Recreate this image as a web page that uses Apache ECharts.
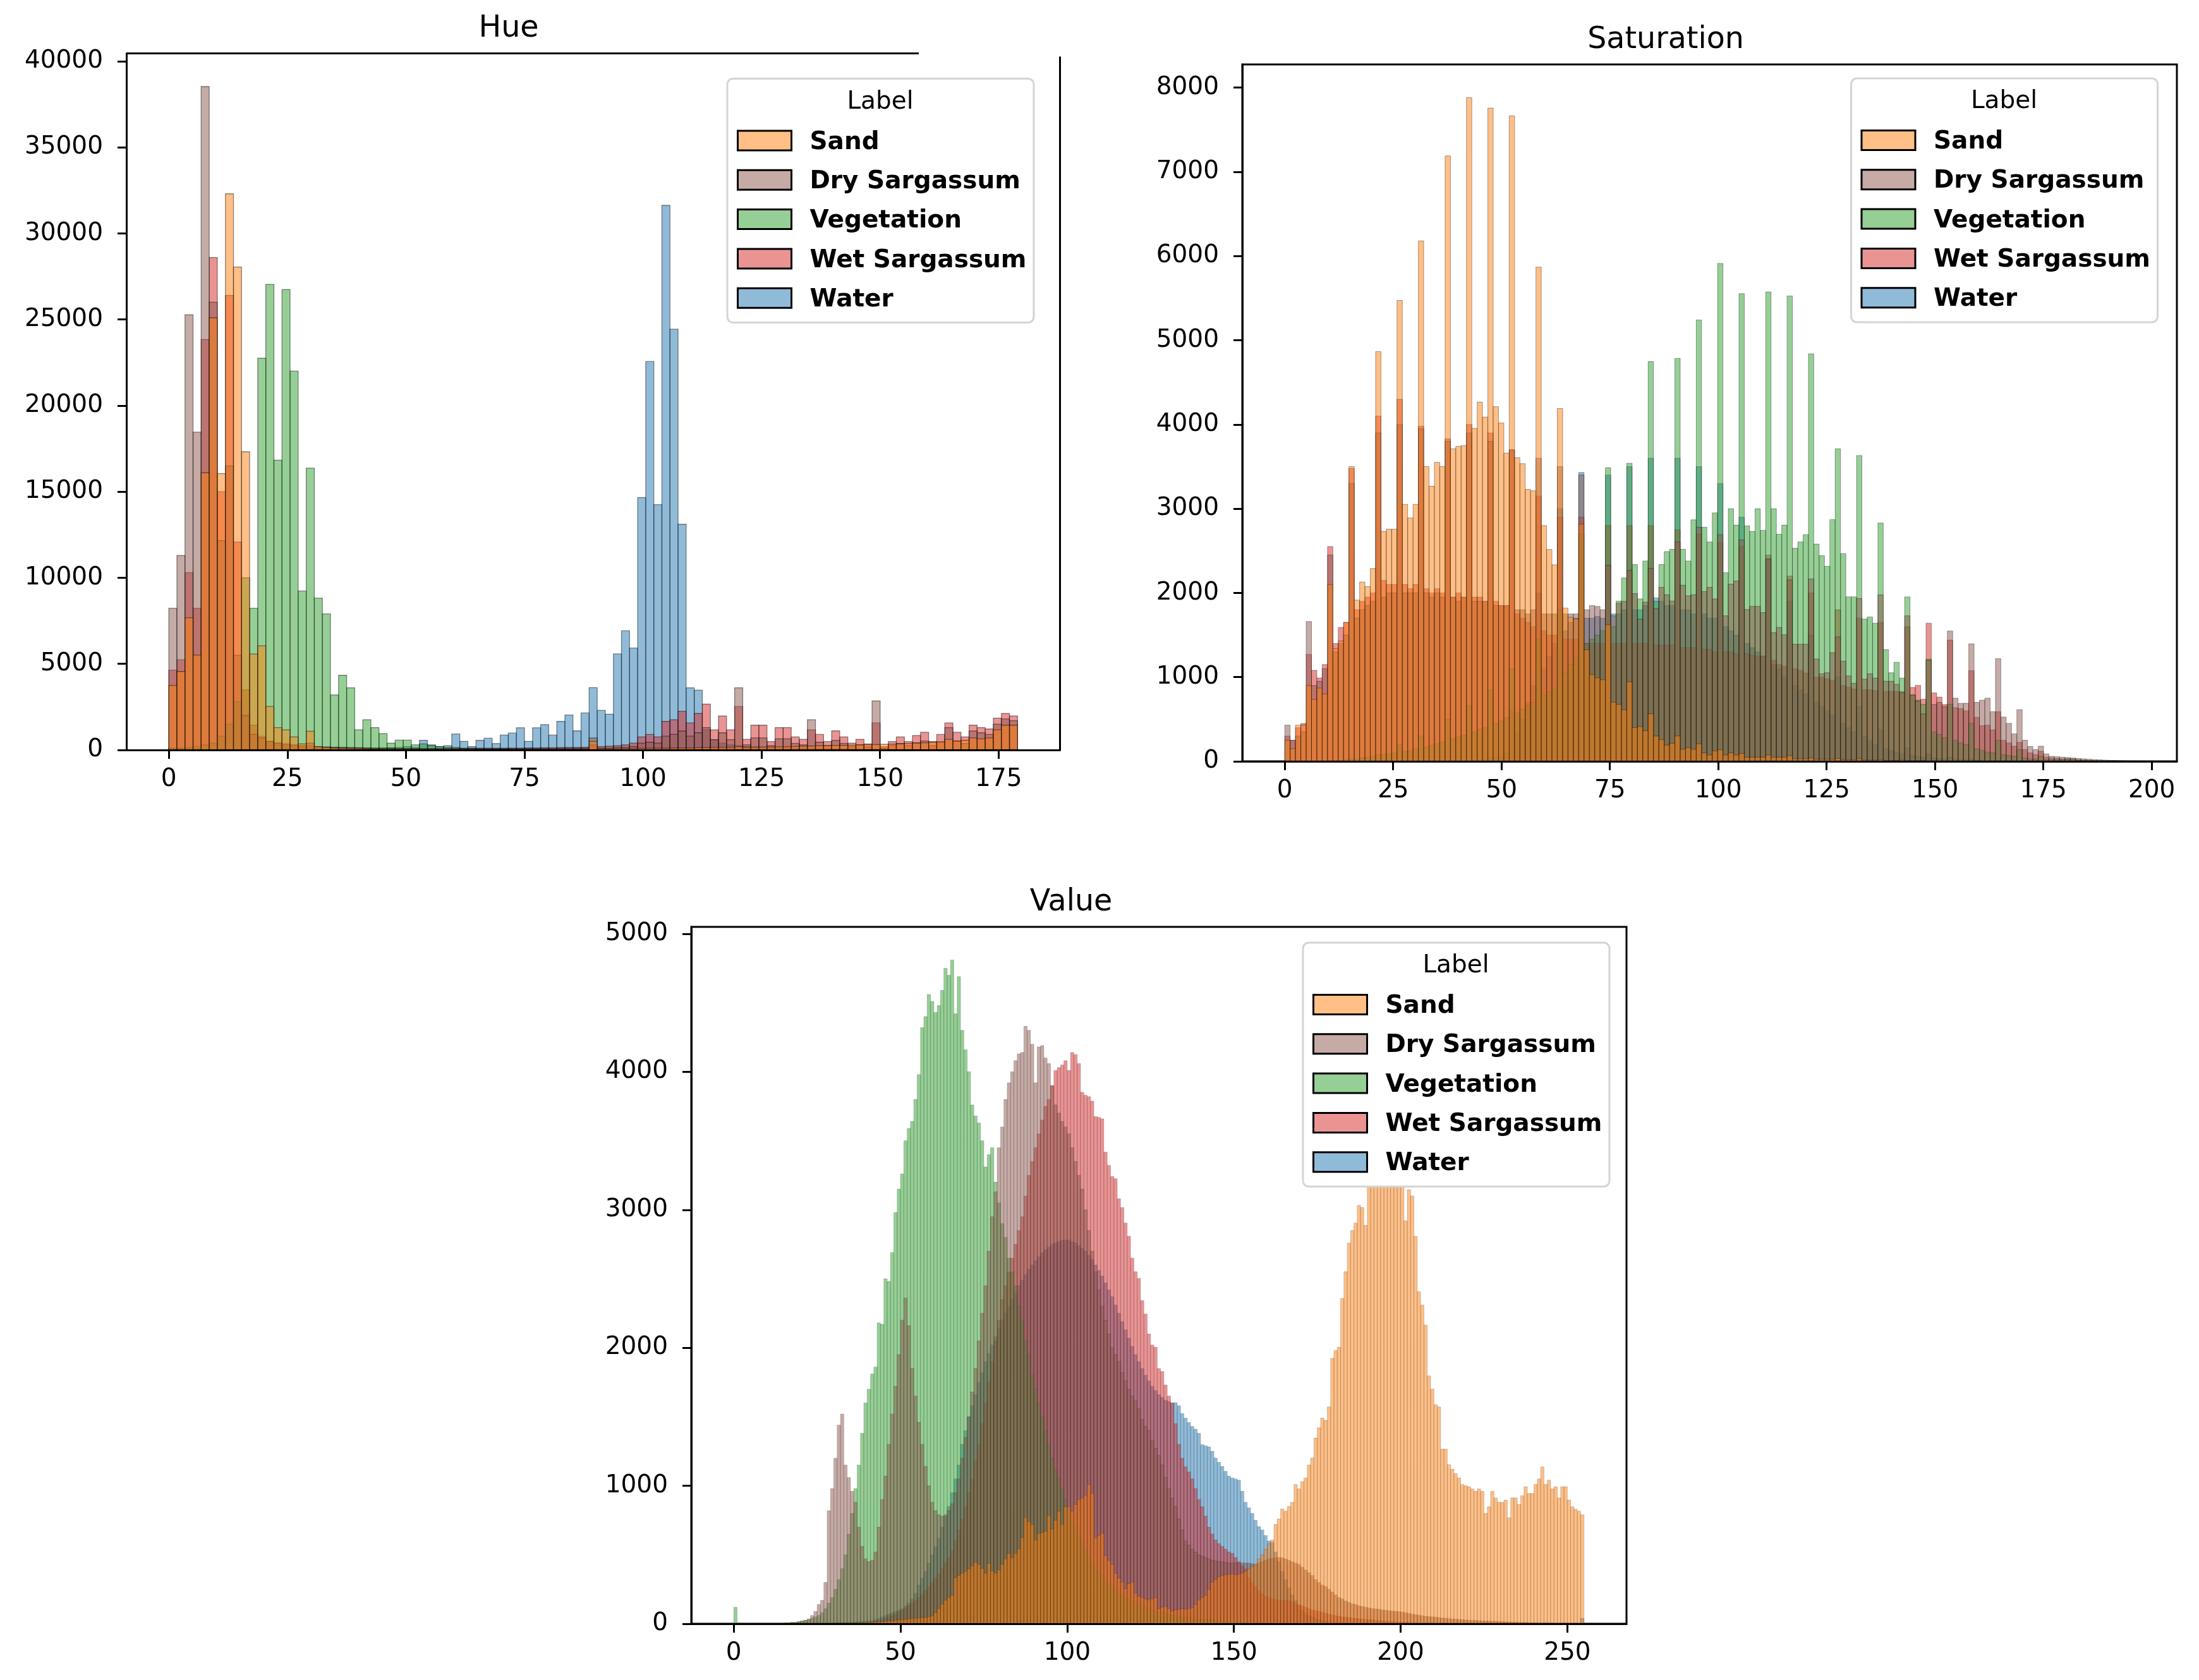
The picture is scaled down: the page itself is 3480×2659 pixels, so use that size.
<!DOCTYPE html>
<html>
<head>
<meta charset="utf-8">
<title>HSV histograms by label</title>
<script src="https://cdn.jsdelivr.net/npm/echarts@6/dist/echarts.min.js"></script>
<style>
  html, body { margin: 0; padding: 0; background: #fff; }
  #chart { width: 3480px; height: 2659px; }
</style>
</head>
<body>
<div id="chart"></div>
<script>
// ---- categories ----
var labels = ['Sand', 'Dry Sargassum', 'Vegetation', 'Wet Sargassum', 'Water'];
var fills = ['rgba(255,127,14,0.5)', 'rgba(140,86,75,0.5)', 'rgba(44,160,44,0.5)', 'rgba(214,39,40,0.5)', 'rgba(31,119,180,0.5)'];

// ---- bin layout (range and bin count per channel) ----
var hueRange = [0, 179], hueBinCount = 105;
var satRange = [0, 196], satBinCount = 159;
var valRange = [0, 255], valBinCount = 255;

// ---- tick labels ----
var hueXTicks = [0, 25, 50, 75, 100, 125, 150, 175];
var hueYTicks = [0, 5000, 10000, 15000, 20000, 25000, 30000, 35000, 40000];
var satXTicks = [0, 25, 50, 75, 100, 125, 150, 175, 200];
var satYTicks = [0, 1000, 2000, 3000, 4000, 5000, 6000, 7000, 8000];
var valXTicks = [0, 50, 100, 150, 200, 250];
var valYTicks = [0, 1000, 2000, 3000, 4000, 5000];

// ---- Hue counts per bin ----
var hueSand = [3750,4560,7680,5510,16100,25100,16050,32300,28050,17320,
  5570,6050,2525,1300,1170,760,350,1090,200,150,
  120,100,90,80,60,50,40,40,30,30,
  30,30,30,30,30,60,30,30,30,30,
  40,40,40,40,40,40,50,50,50,50,
  60,60,500,80,80,80,90,90,100,100,
  100,100,120,120,120,130,130,150,150,150,
  200,150,160,170,180,190,200,210,220,230,
  240,250,260,270,280,300,310,320,330,340,
  350,380,400,420,450,480,620,520,560,700,
  650,700,1170,1440,1440];
var hueDry = [8230,11300,25280,18460,38530,26000,12160,16500,5500,2000,
  900,700,500,400,350,300,250,400,200,180,
  160,150,140,130,120,110,100,100,90,90,
  80,80,80,80,80,80,80,80,80,80,
  80,80,80,80,90,90,90,90,100,100,
  100,100,700,100,100,150,150,200,400,450,
  400,800,900,1100,800,1000,1300,600,1000,600,
  3610,300,700,700,250,650,650,380,300,1760,
  450,250,550,380,200,300,180,2850,100,250,
  380,250,420,520,250,450,1300,520,380,1100,
  1000,900,1500,1800,1700];
var hueVeg = [100,100,150,200,300,400,800,1500,2800,10000,
  8230,22750,27040,16830,26740,22000,9230,16370,8820,7900,
  3200,4340,3610,1170,1760,1300,950,400,570,570,
  300,350,250,200,150,150,100,80,70,60,
  50,50,40,40,30,30,30,20,20,20,
  20,20,20,10,10,10,10,10,10,10];
var hueWet = [4640,5240,10300,8230,23840,28600,15000,26400,12080,3500,
  1440,800,500,400,300,250,200,250,180,150,
  150,140,130,120,110,100,100,100,90,90,
  90,90,90,90,90,90,90,100,100,100,
  100,100,110,110,120,120,130,130,140,150,
  150,160,300,200,220,250,300,400,760,900,
  760,1660,1760,2250,1570,2120,2660,1170,1980,1170,
  2525,620,1440,1440,490,1300,1300,760,620,1170,
  900,490,1110,760,400,620,350,1570,200,490,
  760,490,840,1030,490,900,1570,1030,760,1440,
  1300,1220,1850,2120,1980];
var hueWater = [50,50,50,50,50,50,50,50,50,50,
  50,50,50,50,50,60,60,60,60,60,
  60,70,70,80,80,90,100,120,150,200,
  150,560,300,200,250,930,500,200,560,680,
  375,865,985,1290,500,1290,1475,865,1660,2030,
  1110,2150,3620,2300,2080,5580,6920,5920,14660,22560,
  14250,31630,24440,13110,3610,3475,1170,600,400,300,
  250,200,180,160,150,130,120,110,100,100,
  90,80,80,70,70,60,60,50,50,50,
  40,40,40,40,40,40,40,40,40,40,
  40,40,40,40,40];

// ---- Saturation counts per bin ----
var satSand = [250,150,430,430,900,735,870,800,2100,1340,
  1430,1650,3500,1915,2130,2076,2290,4866,2730,2757,
  2757,5472,3052,2890,3052,6180,3500,3267,3550,3500,
  7189,3712,3740,3750,7881,3954,4265,4088,7757,4211,
  4018,3660,7666,3605,3535,3230,3213,5869,2800,2516,
  2334,4190,1820,1711,1690,2817,1325,1030,992,969,
  1620,701,676,613,944,401,413,363,564,301,
  258,193,213,301,143,163,143,208,100,75,
  125,138,75,100,75,93,50,50,50,50,
  75,50,50,50,68,30,30,30,40,25,
  25,25,25,35,20,20,20,30,15,15,
  15,20,10,10,10,15,8,8,8,10,
  5,5,5,5,5,5,5,5,5,5];
var satDry = [430,250,300,350,1660,900,950,1100,2450,1300,
  1400,1500,3300,1700,1800,1850,1900,3900,1950,2000,
  2000,4000,2000,2000,2000,3950,2000,1950,2000,1950,
  3800,1950,1900,1950,3900,1900,1900,1900,3800,1850,
  1850,1850,3700,1800,1800,1750,1800,3600,1750,1750,
  1750,3500,1750,1750,1750,3400,1800,1850,1840,1800,
  2330,1728,1878,1900,2267,1991,1690,1890,2292,1815,
  2066,1978,1903,2605,2091,1966,1978,2780,2016,2066,
  1929,2692,1728,2104,2141,2630,1803,1840,1840,1766,
  2404,1528,1590,1503,2154,1390,1390,1390,2166,1215,
  1040,1052,1290,1478,1190,1014,926,1933,976,1039,
  989,1977,951,951,914,814,1728,789,714,563,
  1200,676,700,650,1548,751,688,690,1395,701,
  726,751,589,1220,526,451,326,614,251,176,
  139,180,88,60,55,50,45,40,35,30,
  25,20,18,15,12,10,8,6,5];
var satVeg = [0,0,0,0,0,0,0,0,10,10,
  10,20,30,30,40,50,60,80,80,90,
  100,200,120,130,150,300,170,190,210,230,
  500,270,290,310,660,350,380,400,850,450,
  480,520,1100,580,620,660,700,1450,780,820,
  870,1800,1050,1150,1250,2700,1400,1450,1500,1550,
  3487,1600,1903,2178,3540,2337,1929,2379,4748,1900,
  2337,2491,2517,4785,2517,2379,2868,5241,2780,2605,
  2950,5912,2240,3000,2805,5553,2797,2730,3000,2743,
  5574,3000,2697,2805,5526,2530,2605,2692,4839,2580,
  2442,2316,2870,3712,2467,1953,1953,3632,1690,1715,
  1640,2830,1327,1052,1176,989,1953,788,726,676,
  1213,350,320,280,676,250,220,200,451,150,
  130,110,100,250,80,70,60,139,40,30,
  30,60,20,20,20,20,30,30,10,10];
var satWet = [300,250,400,450,1270,1080,990,1150,2550,1400,
  1590,1650,3480,1800,1900,1950,2000,4100,2150,2100,
  2100,4300,2100,2050,2100,3980,2050,2000,2050,2000,
  3830,1950,2000,1950,4000,1950,1950,1900,3900,1900,
  1850,1850,3700,1750,1700,1650,1600,3150,1550,1500,
  1500,2900,1450,1450,1450,2900,1400,1400,1400,1400,
  2800,1400,1400,1400,2800,1400,1400,1400,2800,1380,
  1380,1380,1380,2750,1350,1350,1350,2700,1330,1330,
  1300,2600,1300,1300,1280,2550,1280,1260,1250,1250,
  2450,1200,1150,1130,2200,1100,1080,1050,2000,1000,
  1000,980,960,1800,900,880,860,1700,850,850,
  840,1650,830,830,830,830,1600,877,902,738,
  1640,813,763,676,1440,638,626,600,1076,523,
  423,430,375,589,250,220,180,226,139,100,
  80,120,50,40,35,30,30,25,20,15,
  12,10,8,6,5,4,3,2,0];
var satWater = [0,0,0,0,0,0,0,0,0,0,
  0,0,0,0,0,0,0,0,0,0,
  0,0,0,0,0,0,0,0,0,0,
  0,0,0,0,0,10,20,30,40,50,
  60,100,600,350,500,700,900,2000,1100,1250,
  1400,3000,1550,1650,1700,3430,1700,1700,1720,1700,
  3400,1750,1750,1800,3500,1800,1800,1850,3600,1940,
  1900,1850,1850,3600,1800,1800,1750,3500,1750,1700,
  1700,3300,1600,1550,1500,2900,1400,1350,1300,1250,
  2400,1150,1100,1000,1900,900,850,800,1500,700,
  650,600,550,1000,450,400,350,650,300,250,
  200,380,150,130,110,90,160,70,60,50,
  90,40,35,30,50,25,20,20,30,15,
  12,10,10,15,8,6,5,8,4,3,
  3,5,2,2,2,2,3,2,2,2,
  2,2,2,2,2,2,2,2,2];

// ---- Value counts per bin ----
var valSand = [0,0,0,0,0,0,0,0,0,0,
  0,0,0,0,0,0,0,0,0,0,
  0,0,0,0,0,2,2,3,3,4,
  4,5,5,5,6,6,7,8,8,9,
  10,10,12,14,16,18,20,22,25,28,
  30,32,35,38,40,42,45,45,50,55,
  80,110,141,170,190,205,334,350,366,380,
  398,420,446,430,400,366,437,382,366,390,
  430,470,510,478,510,543,623,768,740,720,
  607,655,660,671,784,687,750,816,720,848,
  848,816,864,900,912,928,1009,944,623,640,
  655,494,460,430,366,330,302,254,290,302,
  222,200,190,180,173,180,190,109,120,125,
  110,93,100,105,109,105,110,115,140,173,
  190,205,250,302,320,340,350,355,360,362,
  355,360,366,380,398,415,430,470,500,540,
  580,607,720,760,832,816,850,880,1009,977,
  1030,1057,1150,1201,1346,1420,1491,1474,1571,1924,
  1980,2004,2358,2551,2759,2850,2904,3032,3016,2888,
  3250,3450,3650,3800,3900,3950,3850,3700,3500,3300,
  3200,2920,3145,3100,2808,2406,2310,2165,1796,1700,
  1587,1571,1266,1266,1153,1120,1089,1057,1009,1000,
  993,977,960,977,960,800,848,960,912,880,
  880,896,768,912,912,864,928,993,944,944,
  1009,1050,1137,1009,1041,977,993,912,993,993,
  896,848,830,816,790];
var valDry = [0,0,0,0,0,0,0,0,0,0,
  0,0,0,0,0,5,5,10,10,15,
  20,25,35,60,90,140,170,300,820,980,
  1200,1440,1520,1150,1060,960,880,700,560,470,
  450,460,520,700,900,1070,1300,1520,1720,1950,
  2200,2360,2160,1850,1650,1460,1300,1140,1000,880,
  820,790,780,790,820,870,950,1050,1200,1350,
  1500,1680,1850,2050,2250,2450,2700,2950,3130,3450,
  3600,3800,3920,4000,4080,4130,4140,4330,4300,4200,
  3920,4180,4190,4100,4060,3900,3760,3700,3640,3600,
  3550,3450,3350,3250,3150,3000,2850,2700,2550,2420,
  2300,2200,2100,2000,1950,1900,1820,1760,1700,1650,
  1620,1560,1480,1430,1400,1330,1270,1220,1150,1060,
  980,910,850,760,680,600,570,540,520,500,
  490,480,470,460,455,450,450,445,440,440,
  440,440,440,440,440,435,430,440,450,460,
  470,475,478,480,478,470,460,450,440,430,
  410,390,370,350,320,300,280,270,250,230,
  210,190,180,165,155,145,140,130,125,120,
  115,110,108,105,100,98,95,92,90,88,
  85,80,75,70,66,62,58,55,52,50,
  48,45,42,40,38,36,34,32,30,28,
  26,25,24,22,21,20,19,18,17,16,
  15,14,13,12,12,11,10,10,9,9,
  8,8,7,7,6,6,5,5,5,4,
  4,3,3,2,2];
var valVeg = [120,5,0,0,0,0,0,0,0,0,
  0,0,0,0,0,5,5,10,10,15,
  20,25,30,40,50,60,80,110,150,190,
  250,320,400,500,650,800,980,1150,1380,1600,
  1700,1810,1860,2180,2170,2500,2480,2690,2980,3150,
  3260,3500,3590,3640,3800,3980,4320,4400,4560,4510,
  4430,4480,4590,4750,4700,4810,4420,4690,4300,4160,
  4000,3760,3680,3630,3500,3310,3400,3450,3200,3050,
  2900,2800,2650,2550,2450,2300,2200,2050,1950,1800,
  1700,1600,1500,1400,1300,1200,1120,1050,980,900,
  830,760,700,640,590,540,490,450,410,380,
  350,320,290,270,250,230,210,190,175,160,
  150,140,130,120,110,100,90,85,80,75,
  70,65,60,55,50,45,42,40,38,35,
  32,30,28,26,24,22,20,18,16,15,
  14,13,12,11,10,9,8,7,6,5,
  5,5,4,4,4,3,3,3,2,2];
var valWet = [0,0,0,0,0,0,0,0,0,0,
  0,0,0,0,0,0,0,0,0,0,
  0,0,0,0,0,0,0,2,3,4,
  5,5,5,5,6,6,7,7,8,9,
  10,15,20,25,30,40,50,60,70,85,
  100,115,130,150,170,190,210,240,270,300,
  330,360,400,440,480,530,600,680,760,850,
  950,1050,1180,1300,1450,1600,1750,1900,2050,2200,
  2350,2450,2550,2650,2750,2850,2950,3100,3250,3350,
  3450,3550,3650,3750,3800,3900,4010,4030,4050,4080,
  4010,4140,4125,4060,3852,3830,3820,3787,3675,3670,
  3659,3418,3322,3241,3225,3080,3016,2904,2808,2650,
  2551,2502,2342,2245,2100,2020,2004,1850,1828,1731,
  1650,1600,1450,1300,1200,1137,1100,1050,980,900,
  848,780,700,650,607,580,560,540,520,510,
  480,450,420,398,334,300,270,240,220,200,
  190,180,175,170,170,170,165,160,150,140,
  130,120,110,100,95,90,85,77,70,65,
  60,55,50,48,45,42,40,38,35,32,
  30,28,26,24,22,20,18,16,15,14,
  13,12,11,10,9,8,7,7,6,6,
  5,5,5,4,4,4,3,3,3,2];
var valWater = [0,0,0,0,0,0,0,0,0,0,
  0,0,0,0,0,0,0,0,0,0,
  0,0,0,0,0,0,0,0,0,0,
  5,5,5,8,8,10,12,14,16,18,
  20,25,30,40,50,60,70,80,90,100,
  110,130,150,180,220,280,330,380,440,500,
  560,620,700,780,850,950,1050,1150,1300,1400,
  1500,1580,1660,1750,1820,1900,1960,2020,2080,2140,
  2200,2250,2300,2350,2400,2450,2490,2530,2570,2600,
  2630,2660,2690,2710,2730,2750,2760,2770,2780,2780,
  2780,2770,2760,2740,2720,2700,2670,2640,2600,2560,
  2520,2470,2420,2370,2310,2250,2190,2130,2070,2010,
  1950,1900,1850,1800,1760,1720,1690,1660,1640,1620,
  1610,1600,1603,1580,1523,1490,1458,1430,1410,1380,
  1298,1290,1282,1250,1201,1170,1140,1105,1070,1057,
  1050,1041,960,880,840,800,750,704,680,640,
  600,591,520,450,380,320,260,210,170,130,
  100,80,60,50,40,30,25,20,15,12,
  10,8,6,5,4,3,3,2,2,2,
  0,0,0,0,0,0,0,0,0,0,
  0,0,0,0,0,0,0,0,0,0,
  0,0,0,0,0,0,0,0,0,0,
  0,0,0,0,0,0,0,0,0,0,
  0,0,0,0,0,0,0,0,0,0,
  0,0,0,0,0,0,0,0,0,0,
  0,0,0,0,40];

var FONT = 'DejaVu Sans';
var TOP_Z = 100;

var panels = [
  { name: 'Hue', counts: [hueSand, hueDry, hueVeg, hueWet, hueWater], range: hueRange, bins: hueBinCount,
    xTicks: hueXTicks, yTicks: hueYTicks, xMin: -8.95, xMax: 187.95, yMax: 40456,
    grid: { left: 200, top: 84.5, width: 1477.5, height: 1102.5, show: false },
    edge: 'rgba(0,0,0,0.45)', lw: 1.3 },
  { name: 'Saturation', counts: [satSand, satDry, satVeg, satWet, satWater], range: satRange, bins: satBinCount,
    xTicks: satXTicks, yTicks: satYTicks, xMin: -9.8, xMax: 205.8, yMax: 8275,
    grid: { left: 1966, top: 102, width: 1479, height: 1103, show: true, borderColor: '#000', borderWidth: 3 },
    edge: 'rgba(0,0,0,0.4)', lw: 0.9 },
  { name: 'Value', counts: [valSand, valDry, valVeg, valWet, valWater], range: valRange, bins: valBinCount,
    xTicks: valXTicks, yTicks: valYTicks, xMin: -12.75, xMax: 267.75, yMax: 5050,
    grid: { left: 1094, top: 1467, width: 1480, height: 1103, show: true, borderColor: '#000', borderWidth: 3 },
    edge: 'rgba(0,0,0,0.3)', lw: 0.6 }
];

function barRenderer(fill, edge, lw) {
  return function (params, api) {
    var p0 = api.coord([api.value(0), api.value(2)]);
    var p1 = api.coord([api.value(1), 0]);
    return {
      type: 'rect',
      shape: { x: p0[0], y: p0[1], width: p1[0] - p0[0], height: p1[1] - p0[1] },
      style: { fill: fill, stroke: edge, lineWidth: lw }
    };
  };
}

function plainLabel(v) { return String(v); }

var grids = [], xAxes = [], yAxes = [], series = [];

panels.forEach(function (p, k) {
  grids.push(p.grid);
  xAxes.push({
    type: 'value', gridIndex: k, min: p.xMin, max: p.xMax, z: 10,
    axisLine: { show: true, onZero: false, lineStyle: { color: '#000', width: 3 } },
    axisTick: { show: true, length: 14, lineStyle: { color: '#000', width: 3 }, customValues: p.xTicks },
    axisLabel: { customValues: p.xTicks, formatter: plainLabel, color: '#000', fontSize: 39, fontFamily: FONT, margin: 27 },
    splitLine: { show: false }
  });
  yAxes.push({
    type: 'value', gridIndex: k, min: 0, max: p.yMax, z: 10,
    axisLine: { show: true, onZero: false, lineStyle: { color: '#000', width: 3 } },
    axisTick: { show: true, length: 14, lineStyle: { color: '#000', width: 3 }, customValues: p.yTicks },
    axisLabel: { customValues: p.yTicks, formatter: plainLabel, color: '#000', fontSize: 39, fontFamily: FONT, margin: 37 },
    splitLine: { show: false }
  });

  var w = (p.range[1] - p.range[0]) / p.bins;
  // seaborn layers the first hue level on top, so draw Water first and Sand last
  [4, 3, 2, 1, 0].forEach(function (s) {
    var data = [];
    p.counts[s].forEach(function (c, i) {
      if (c > 0) data.push([p.range[0] + i * w, p.range[0] + (i + 1) * w, c]);
    });
    series.push({
      type: 'custom', name: p.name + ' ' + labels[s],
      xAxisIndex: k, yAxisIndex: k, data: data,
      encode: { x: [0, 1], y: 2 }, silent: true, clip: true,
      renderItem: barRenderer(fills[s], p.edge, p.lw)
    });
  });
});

// legend box drawn on top of the bars
function legendElements(x, y) {
  var els = [
    { type: 'rect', z: TOP_Z, shape: { x: x, y: y, width: 485, height: 386, r: 9 },
      style: { fill: '#ffffff', stroke: '#d4d4d4', lineWidth: 3 } },
    { type: 'text', z: TOP_Z + 1, x: x + 242, y: y + 37,
      style: { text: 'Label', fontSize: 39, fontFamily: FONT, fill: '#000', align: 'center', verticalAlign: 'middle' } }
  ];
  labels.forEach(function (name, k) {
    var cy = y + 98 + k * 62.3;
    els.push({ type: 'rect', z: TOP_Z + 1, shape: { x: x + 16.5, y: cy - 15.5, width: 85, height: 31 },
      style: { fill: fills[k], stroke: '#000', lineWidth: 3 } });
    els.push({ type: 'text', z: TOP_Z + 1, x: x + 130.5, y: cy + 3,
      style: { text: name, fontSize: 39, fontWeight: 'bold', fontFamily: FONT, fill: '#000', align: 'left', verticalAlign: 'middle' } });
  });
  return els;
}

function titleText(text, x, y) {
  return { type: 'text', z: TOP_Z, x: x, y: y,
    style: { text: text, fontSize: 47.5, fontFamily: FONT, fill: '#000', align: 'center', verticalAlign: 'middle' } };
}

var graphics = [
  titleText('Hue', 805, 46),
  titleText('Saturation', 2636, 64),
  titleText('Value', 1695, 1429),
  // Hue panel frame: top and right spines as they appear in the original
  { type: 'line', z: TOP_Z, shape: { x1: 200, y1: 84.5, x2: 1454, y2: 84.5 }, style: { stroke: '#000', lineWidth: 3 } },
  { type: 'line', z: TOP_Z, shape: { x1: 1677.5, y1: 89.5, x2: 1677.5, y2: 1187 }, style: { stroke: '#000', lineWidth: 3 } }
].concat(legendElements(1151, 124.5), legendElements(2929.5, 124), legendElements(2062, 1492));

var chart = echarts.init(document.getElementById('chart'), null, { renderer: 'canvas' });
chart.setOption({
  animation: false,
  backgroundColor: '#ffffff',
  textStyle: { fontFamily: FONT },
  grid: grids,
  xAxis: xAxes,
  yAxis: yAxes,
  series: series,
  graphic: { elements: graphics }
});

window.addEventListener('resize', function () {
  chart.resize();
});
</script>
</body>
</html>
